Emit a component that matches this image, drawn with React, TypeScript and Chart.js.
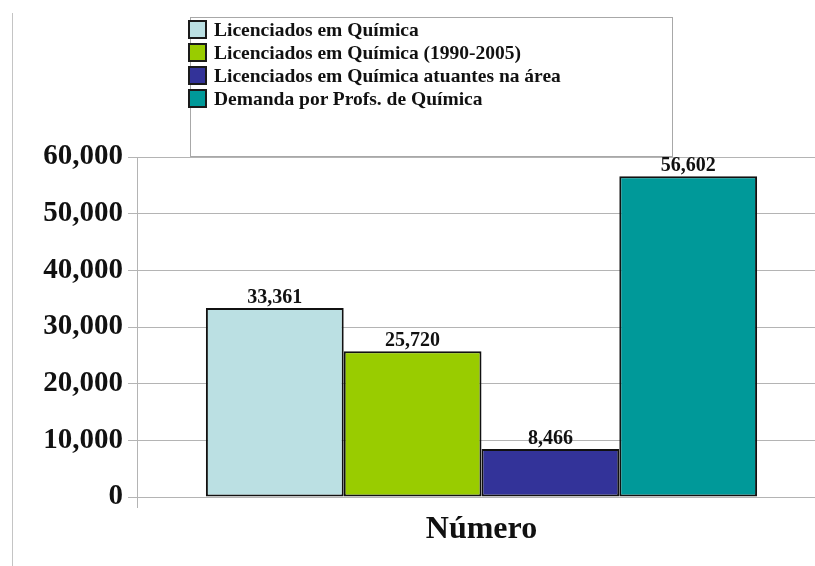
import React, { useEffect, useRef } from "react";
import { Chart, registerables } from "chart.js";

Chart.register(...registerables);

const categories = ["Número"];
const seriesLabels = [
  "Licenciados em Química",
  "Licenciados em Química (1990-2005)",
  "Licenciados em Química atuantes na área",
  "Demanda por Profs. de Química",
];
const licenciados = [33361];
const licenciados19902005 = [25720];
const atuantes = [8466];
const demanda = [56602];
const seriesValues = [licenciados, licenciados19902005, atuantes, demanda];
const yTicks = [0, 10000, 20000, 30000, 40000, 50000, 60000];

const colors = ["#BBE0E3", "#99CC00", "#333399", "#009999"];
const SERIF = "'Liberation Serif', 'Times New Roman', Times, serif";

const fmt = (v: number) => v.toLocaleString("en-US");

export default function App() {
  const ref = useRef<HTMLCanvasElement>(null);

  useEffect(() => {
    document.body.style.margin = "0";
    const valueLabels = {
      id: "valueLabels",
      afterDatasetsDraw(chart: any) {
        const ctx = chart.ctx;
        ctx.save();
        ctx.font = `bold 20px ${SERIF}`;
        ctx.fillStyle = "#111";
        ctx.textAlign = "center";
        ctx.textBaseline = "alphabetic";
        chart.data.datasets.forEach((ds: any, i: number) => {
          const meta = chart.getDatasetMeta(i);
          meta.data.forEach((el: any, j: number) => {
            ctx.fillText(fmt(ds.data[j] as number), el.x, el.y - 5);
          });
        });
        ctx.restore();
      },
    };

    const chart = new Chart(ref.current!, {
      type: "bar",
      data: {
        labels: categories,
        datasets: seriesValues.map((vals, i) => ({
          label: seriesLabels[i],
          data: vals,
          backgroundColor: colors[i],
          borderColor: "#111",
          borderWidth: 2,
          borderSkipped: false,
          categoryPercentage: 0.8,
          barPercentage: 1,
        })),
      },
      options: {
        responsive: false,
        animation: false,
        devicePixelRatio: 1,
        layout: { padding: { top: 157, right: 4, bottom: 0, left: 0 } },
        plugins: { legend: { display: false }, tooltip: { enabled: false } },
        scales: {
          x: {
            grid: {
              offset: true,
              drawOnChartArea: false,
              tickLength: 11,
              color: "#b4b4b4",
            },
            border: { color: "#b4b4b4" },
            ticks: {
              font: { family: SERIF, size: 32, weight: "bold" },
              color: "#111",
              padding: 3,
            },
            afterFit: (s: any) => {
              s.height = 69;
            },
          },
          y: {
            min: 0,
            max: 60000,
            afterBuildTicks: (s: any) => {
              s.ticks = yTicks.map((v) => ({ value: v }));
            },
            ticks: {
              callback: (v: any) => fmt(Number(v)),
              font: { family: SERIF, size: 29, weight: "bold" },
              color: "#111",
              padding: 5,
            },
            grid: { color: "#b4b4b4", tickLength: 9 },
            border: { color: "#b4b4b4" },
            afterFit: (s: any) => {
              s.width = 137;
            },
          },
        },
      },
      plugins: [valueLabels],
    });
    return () => chart.destroy();
  }, []);

  return (
    <div
      style={{
        position: "fixed",
        left: 0,
        top: 0,
        width: 815,
        height: 566,
        overflow: "hidden",
        background: "#fff",
      }}
    >
      <canvas
        ref={ref}
        width={830}
        height={566}
        style={{ position: "absolute", left: 0, top: 0, width: 830, height: 566 }}
      />
      <div
        style={{
          position: "absolute",
          left: 12,
          top: 13,
          width: 1,
          height: 553,
          background: "#c4c4c4",
        }}
      />
      <div
        style={{
          position: "absolute",
          left: 190,
          top: 17,
          width: 483,
          height: 140,
          boxSizing: "border-box",
          border: "1.5px solid #a8a8a8",
          background: "#fff",
        }}
      />
      {seriesLabels.map((label, i) => (
        <React.Fragment key={label}>
          <div
            style={{
              position: "absolute",
              left: 188,
              top: 20 + i * 23,
              width: 19,
              height: 19,
              boxSizing: "border-box",
              border: "2px solid #1a1a1a",
              background: colors[i],
            }}
          />
          <div
            style={{
              position: "absolute",
              left: 214,
              top: 21 + i * 23,
              height: 18,
              lineHeight: "18px",
              fontFamily: SERIF,
              fontWeight: "bold",
              fontSize: 19.5,
              color: "#111",
              whiteSpace: "nowrap",
            }}
          >
            {label}
          </div>
        </React.Fragment>
      ))}
    </div>
  );
}
